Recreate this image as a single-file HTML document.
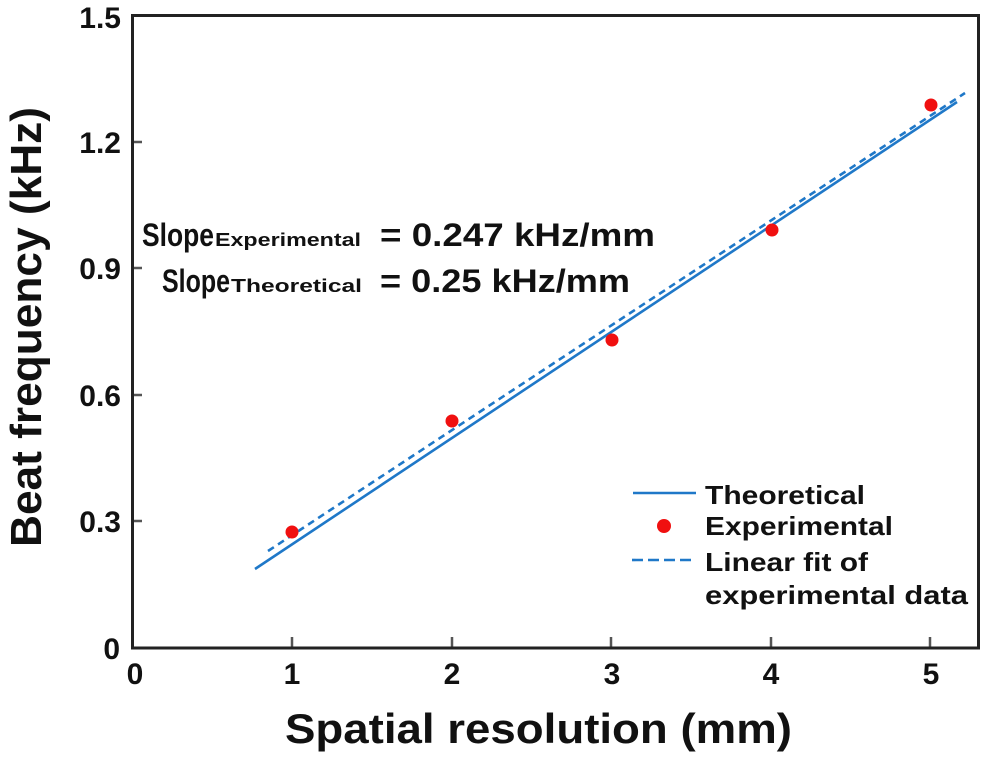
<!DOCTYPE html>
<html><head><meta charset="utf-8"><style>
html,body{margin:0;padding:0;background:#fff;}
svg{display:block;}
text{font-family:"Liberation Sans",sans-serif;font-weight:bold;fill:#111;}
</style></head><body>
<svg width="986" height="759" viewBox="0 0 986 759" xmlns="http://www.w3.org/2000/svg">
<rect width="986" height="759" fill="#fff"/>
<!-- ticks -->
<g stroke="#555" stroke-width="2.5">
<line x1="292" y1="648" x2="292" y2="637"/>
<line x1="452" y1="648" x2="452" y2="637"/>
<line x1="611" y1="648" x2="611" y2="637"/>
<line x1="771" y1="648" x2="771" y2="637"/>
<line x1="930" y1="648" x2="930" y2="637"/>
<line x1="132" y1="142" x2="142" y2="142"/>
<line x1="132" y1="268" x2="142" y2="268"/>
<line x1="132" y1="395" x2="142" y2="395"/>
<line x1="132" y1="521" x2="142" y2="521"/>
</g>
<!-- frame -->
<rect x="132.5" y="15.5" width="846" height="632.5" fill="none" stroke="#222" stroke-width="3"/>
<!-- y tick labels -->
<g font-size="30" text-anchor="end">
<text x="121" y="28">1.5</text>
<text x="121" y="153">1.2</text>
<text x="121" y="279">0.9</text>
<text x="121" y="406">0.6</text>
<text x="121" y="532">0.3</text>
<text x="120" y="659">0</text>
</g>
<!-- x tick labels -->
<g font-size="30" text-anchor="middle">
<text x="135" y="684">0</text>
<text x="292" y="684">1</text>
<text x="452" y="684">2</text>
<text x="612" y="684">3</text>
<text x="771" y="684">4</text>
<text x="931" y="684">5</text>
</g>
<!-- axis titles -->
<text x="285" y="743" font-size="42" textLength="507" lengthAdjust="spacingAndGlyphs">Spatial resolution (mm)</text>
<text transform="translate(41,547) rotate(-90)" font-size="44" textLength="440" lengthAdjust="spacingAndGlyphs">Beat frequency (kHz)</text>
<!-- annotation -->
<text x="142" y="246" font-size="32" textLength="72" lengthAdjust="spacingAndGlyphs">Slope</text>
<text x="215" y="246" font-size="18" textLength="146" lengthAdjust="spacingAndGlyphs">Experimental</text>
<text x="380" y="246" font-size="32" textLength="275" lengthAdjust="spacingAndGlyphs">= 0.247 kHz/mm</text>
<text x="162" y="292" font-size="32" textLength="68" lengthAdjust="spacingAndGlyphs">Slope</text>
<text x="231" y="292" font-size="18" textLength="131" lengthAdjust="spacingAndGlyphs">Theoretical</text>
<text x="380" y="292" font-size="32" textLength="250" lengthAdjust="spacingAndGlyphs">= 0.25 kHz/mm</text>
<!-- series -->
<line x1="255" y1="569" x2="957" y2="102" stroke="#1f78c8" stroke-width="2.6"/>
<line x1="268" y1="551" x2="965" y2="93" stroke="#1f78c8" stroke-width="2.6" stroke-dasharray="7,5"/>
<g fill="#f01010">
<circle cx="292" cy="532" r="6.5"/>
<circle cx="452" cy="421" r="6.5"/>
<circle cx="612" cy="340" r="6.5"/>
<circle cx="772" cy="230" r="6.5"/>
<circle cx="931" cy="105" r="6.5"/>
</g>
<!-- legend -->
<line x1="633" y1="493" x2="696" y2="493" stroke="#1f78c8" stroke-width="2.6"/>
<circle cx="664" cy="526" r="7" fill="#f01010"/>
<line x1="632" y1="560" x2="696" y2="560" stroke="#1f78c8" stroke-width="2.6" stroke-dasharray="11,5"/>
<g font-size="26">
<text x="705" y="504" textLength="160" lengthAdjust="spacingAndGlyphs">Theoretical</text>
<text x="705" y="535" textLength="188" lengthAdjust="spacingAndGlyphs">Experimental</text>
<text x="705" y="571" textLength="163" lengthAdjust="spacingAndGlyphs">Linear fit of</text>
<text x="705" y="604" textLength="263" lengthAdjust="spacingAndGlyphs">experimental data</text>
</g>
</svg>
</body></html>
